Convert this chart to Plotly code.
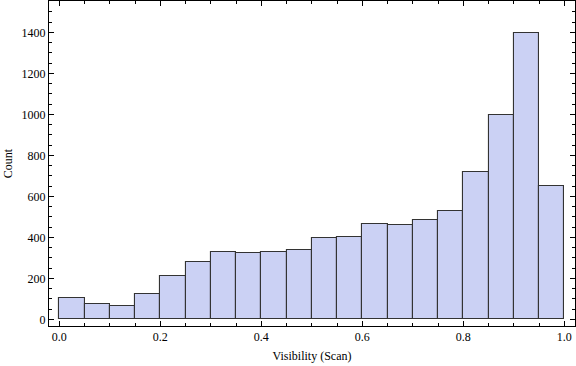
import plotly.graph_objects as go

bin_starts = [0.00, 0.05, 0.10, 0.15, 0.20, 0.25, 0.30, 0.35, 0.40, 0.45,
              0.50, 0.55, 0.60, 0.65, 0.70, 0.75, 0.80, 0.85, 0.90, 0.95]
counts = [102, 73, 63, 122, 210, 278, 327, 322, 327, 337,
          395, 400, 463, 458, 483, 527, 717, 995, 1395, 649]
bin_width = 0.05

x_title = "Visibility (Scan)"
y_title = "Count"

fig = go.Figure(go.Bar(
    x=[s + bin_width / 2 for s in bin_starts],
    y=counts,
    width=bin_width,
    marker=dict(color="#CBD1F4", line=dict(color="#333333", width=1.1)),
))

font = dict(family="Liberation Serif", size=12, color="black")
fig.update_layout(
    width=576, height=366,
    margin=dict(l=49, r=1, t=1, b=40),
    paper_bgcolor="white", plot_bgcolor="white",
    showlegend=False,
    font=font,
    bargap=0,
)
fig.update_xaxes(
    range=[-0.0204, 1.0212],
    tickmode="linear", tick0=0, dtick=0.2, tickformat=".1f",
    ticks="inside", ticklen=5, tickcolor="black",
    minor=dict(dtick=0.05, tick0=0, ticks="inside", ticklen=3, tickcolor="black"),
    showline=True, linecolor="black", linewidth=1, mirror="ticks",
    showgrid=False, zeroline=False,
    title=dict(text=x_title, standoff=8, font=font),
)
fig.update_yaxes(
    range=[-32.7, 1553],
    tickmode="linear", tick0=0, dtick=200,
    ticks="inside", ticklen=5, tickcolor="black",
    minor=dict(dtick=50, tick0=0, ticks="inside", ticklen=3, tickcolor="black"),
    showline=True, linecolor="black", linewidth=1, mirror="ticks",
    showgrid=False, zeroline=False,
    title=dict(text=y_title, standoff=6, font=font),
)
fig.write_html(
    "out.html",
    config={"displayModeBar": False},
    post_script="document.body.style.margin='0';document.body.style.overflow='hidden';",
)
